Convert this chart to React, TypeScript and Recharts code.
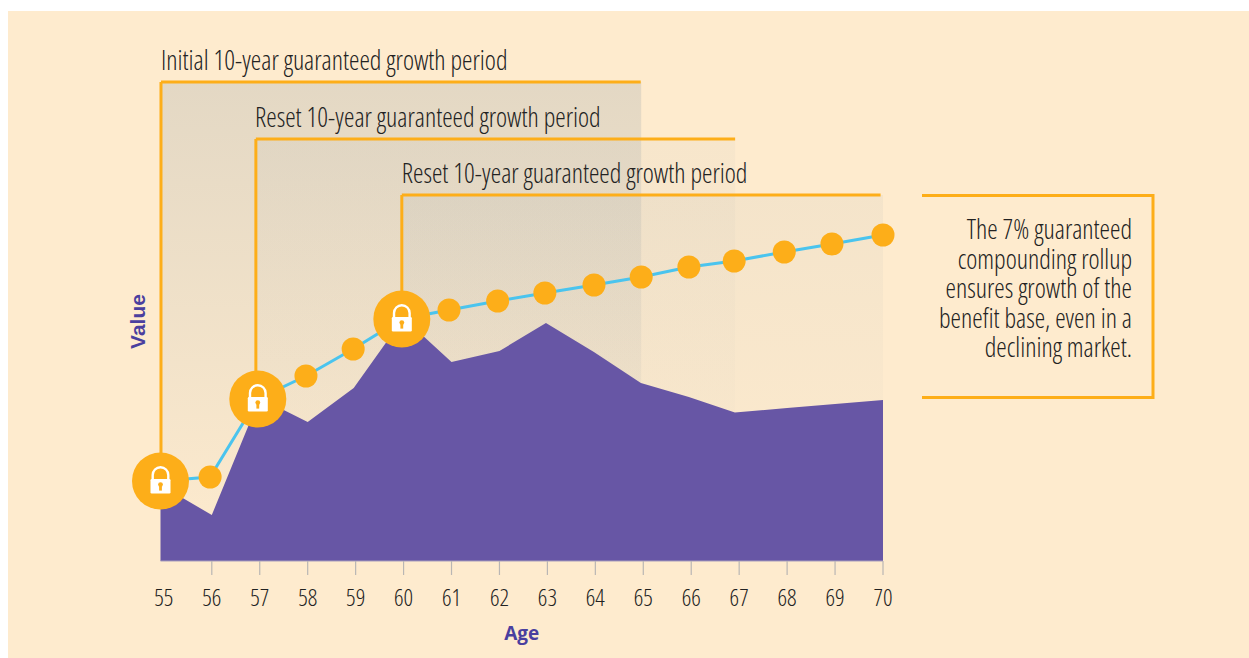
import React from "react";
import { ComposedChart, Area, Line, XAxis, YAxis, ReferenceArea, ReferenceLine } from "recharts";

const ages = [55, 56, 57, 58, 59, 60, 61, 62, 63, 64, 65, 66, 67, 68, 69, 70];
const areaAges = [54.93, 56, 57, 58, 58.96, 60, 61, 62, 62.97, 63.97, 64.95, 65.95, 66.91, 68, 69, 70];
const lineAges = [55, 56.03, 57.02, 58.02, 59, 60.01, 60.99, 62, 62.98, 64, 64.98, 65.97, 66.91, 67.95, 68.94, 70];
const accountValues = [76, 46, 163, 139, 173, 243, 199, 210, 238, 209, 178, 164, 148.5, 153, 157, 161];
const benefitBase = [80, 84, 162, 185, 212, 242, 251, 260, 268, 276, 284, 294, 300, 309, 317, 326];
const lockIndexes = [0, 2, 5];
const periodLabels = [
  "Initial 10-year guaranteed growth period",
  "Reset 10-year guaranteed growth period",
  "Reset 10-year guaranteed growth period",
];
const periodStart = [55.01, 56.98, 60.01];
const periodEnd = [64.98, 66.93, 70];
const periodLineEnd = [64.97, 66.93, 69.95];
const periodTop = [479, 422, 366];
const periodShade = [0.19, 0.05, 0.07];
const calloutLines = [
  "The 7% guaranteed",
  "compounding rollup",
  "ensures growth of the",
  "benefit base, even in a",
  "declining market.",
];

const areaData = areaAges.map((age, i) => ({ age, value: accountValues[i] }));
const lineData = lineAges.map((age, i) => ({ age, base: benefitBase[i], locked: lockIndexes.includes(i) }));

const ORANGE = "#FDAE19";
const PURPLE = "#6756A5";
const BLUE = "#4AC4EE";
const BG = "#FEEBCE";
const INK = "#222222";
const AXIS_INK = "#4A3F9F";
const FONT = "'Open Sans', sans-serif";

const cond = (size: number) => ({
  fontFamily: FONT,
  fontSize: size,
  fontWeight: 300,
  fontStretch: "75%",
  fill: INK,
});

const NarrowText = ({ x, y, size, squeeze, anchor, children }: any) => (
  <text transform={`translate(${x},${y}) scale(${squeeze},1)`} textAnchor={anchor} style={cond(size)}>
    {children}
  </text>
);

const AgeTick = (p: any) => {
  const v = p.payload.value;
  return (
    <g>
      {v !== 55 && <line x1={p.x} x2={p.x} y1={p.y} y2={p.y + 14} stroke="#b9b6b4" strokeWidth={1.2} />}
      <NarrowText x={p.x} y={p.y + 45} size={24.2} squeeze={0.97} anchor="middle">
        {v}
      </NarrowText>
    </g>
  );
};

const Lock = ({ cx, cy }: { cx: number; cy: number }) => (
  <g transform={`translate(${cx},${cy})`}>
    <circle r={28.5} fill={ORANGE} />
    <path d="M-7.8,-2 V-6 a7.8,7.8 0 0 1 15.6,0 V-2" fill="none" stroke="#fff" strokeWidth={2.4} />
    <rect x={-10} y={-2} width={20} height={14.5} rx={1.2} fill="#fff" />
    <circle cx={0} cy={3.6} r={2.4} fill={ORANGE} />
    <rect x={-1.4} y={3.6} width={2.8} height={6} fill={ORANGE} />
  </g>
);

const BaseDot = (p: any) => {
  if (p.payload.locked) return <Lock key={p.index} cx={p.cx} cy={p.cy} />;
  return <circle key={p.index} cx={p.cx} cy={p.cy} r={11.5} fill={ORANGE} />;
};

const zoneShape = (label: string, i: number) => (p: any) => (
  <g>
    <rect x={p.x} y={p.y} width={p.width} height={p.height} fill={`url(#zoneShade${i})`} />
    <NarrowText x={i === 1 ? p.x - 0.8 : p.x} y={p.y - 12.5} size={27} squeeze={0.978} anchor="start">
      {label}
    </NarrowText>
  </g>
);

export default function App() {
  return (
    <div style={{ position: "absolute", left: 8, top: 11, width: 1241, height: 647, background: BG, overflow: "hidden" }}>
      <ComposedChart
        width={1241}
        height={647}
        margin={{ top: 71, right: 366, bottom: 0, left: 107.5 }}
      >
        <defs>
          {periodShade.map((o, i) => (
            <linearGradient key={i} id={`zoneShade${i}`} x1="0" y1="0" x2="0" y2="1">
              <stop offset="0%" stopColor="#72879a" stopOpacity={o} />
              <stop offset="100%" stopColor="#72879a" stopOpacity={0} />
            </linearGradient>
          ))}
        </defs>
        <XAxis xAxisId="main" dataKey="age" type="number" domain={[55, 70]} hide height={0} />
        <XAxis
          xAxisId="ticks"
          dataKey="age"
          type="number"
          domain={[54.93, 70]}
          ticks={ages}
          interval={0}
          height={97}
          tickLine={false}
          tickSize={0}
          tickMargin={0}
          axisLine={{ stroke: "#a79ebc", strokeWidth: 1 }}
          tick={AgeTick}
          label={{
            value: "Age",
            position: "insideBottom",
            offset: 18,
            style: { fontFamily: FONT, fontSize: 19, fontWeight: 700, fill: AXIS_INK },
          }}
        />
        <YAxis
          type="number"
          domain={[0, 479]}
          width={45}
          tick={false}
          axisLine={false}
          tickLine={false}
          label={{
            value: "Value",
            angle: -90,
            position: "center",
            style: { fontFamily: "'Liberation Sans', sans-serif", fontSize: 21, fontWeight: 700, fill: AXIS_INK },
          }}
        />
        {periodLabels.map((label, i) => (
          <ReferenceArea
            key={"z" + i}
            xAxisId="main"
            x1={periodStart[i]}
            x2={periodEnd[i]}
            y1={0}
            y2={periodTop[i]}
            shape={zoneShape(label, i)}
          />
        ))}
        <Area
          xAxisId="ticks"
          data={areaData}
          dataKey="value"
          type="linear"
          stroke="none"
          fill={PURPLE}
          fillOpacity={1}
          isAnimationActive={false}
        />
        {periodLabels.map((_, i) => (
          <ReferenceLine
            key={"t" + i}
            xAxisId="main"
            segment={[
              { x: periodStart[i], y: periodTop[i] },
              { x: periodLineEnd[i], y: periodTop[i] },
            ]}
            stroke={ORANGE}
            strokeWidth={3}
          />
        ))}
        {periodLabels.map((_, i) => (
          <ReferenceLine
            key={"l" + i}
            xAxisId="main"
            segment={[
              { x: periodStart[i], y: periodTop[i] },
              { x: periodStart[i], y: benefitBase[lockIndexes[i]] },
            ]}
            stroke={ORANGE}
            strokeWidth={3}
          />
        ))}
        <Line
          xAxisId="main"
          data={lineData}
          dataKey="base"
          type="linear"
          stroke={BLUE}
          strokeWidth={3}
          dot={BaseDot}
          activeDot={false}
          isAnimationActive={false}
        />
        <g>
          <path d="M914,184.5 H1145 V386.5 H914" fill="none" stroke={ORANGE} strokeWidth={3} />
          {calloutLines.map((t, i) => (
            <NarrowText key={t} x={1124} y={228 + i * 29.5} size={27} squeeze={0.978} anchor="end">
              {t}
            </NarrowText>
          ))}
        </g>
      </ComposedChart>
    </div>
  );
}
